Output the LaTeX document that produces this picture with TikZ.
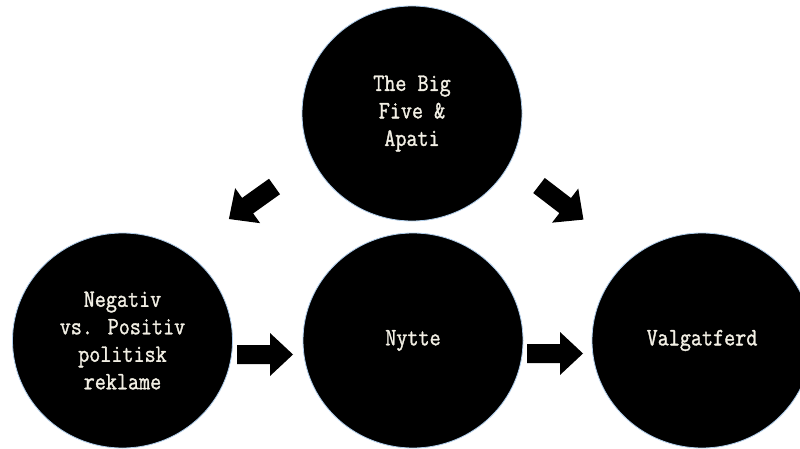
\documentclass[tikz,border=0pt]{standalone}
\usepackage{fontspec}
\newfontfamily\twfont{Latin Modern Mono}[FakeStretch=0.86,FakeBold=1.3]
\usetikzlibrary{shapes.geometric}
\definecolor{cream}{RGB}{242,239,228}
\definecolor{halo}{RGB}{175,205,235}
\tikzset{
  bubble/.style={ellipse, fill=black, draw=halo, line width=0.8pt,
    minimum width=220pt, minimum height=215pt, inner sep=0pt,
    text=cream, font=\twfont\fontsize{25}{27.5}\selectfont, align=center},
  blockarrow/.pic={\fill[black] (0,-9.5) -- (33,-9.5) -- (33,-21.5) -- (56,0)
     -- (33,21.5) -- (33,9.5) -- (0,9.5) -- cycle;}
}
\begin{document}
\begin{tikzpicture}[x=1pt,y=-1pt]
\useasboundingbox[fill=white] (0,0) rectangle (800,449);
\node[bubble] (big) at (412,113.5) {The Big\\Five \&\\Apati};
\node[bubble] (neg) at (122.5,340.5) {Negativ\\vs. Positiv\\politisk\\reklame};
\node[bubble] (nytte) at (413,340.5) {Nytte};
\node[bubble] (valg) at (702,340.5) {Valgatferd};
\pic (a1) [rotate=215.5] at (274.5,186.5) {blockarrow};
\pic (a2) [rotate=-37.5] at (539,185.5) {blockarrow};
\pic (a3) at (237,354.5) {blockarrow};
\pic (a4) at (527,353.5) {blockarrow};
\end{tikzpicture}
\end{document}
